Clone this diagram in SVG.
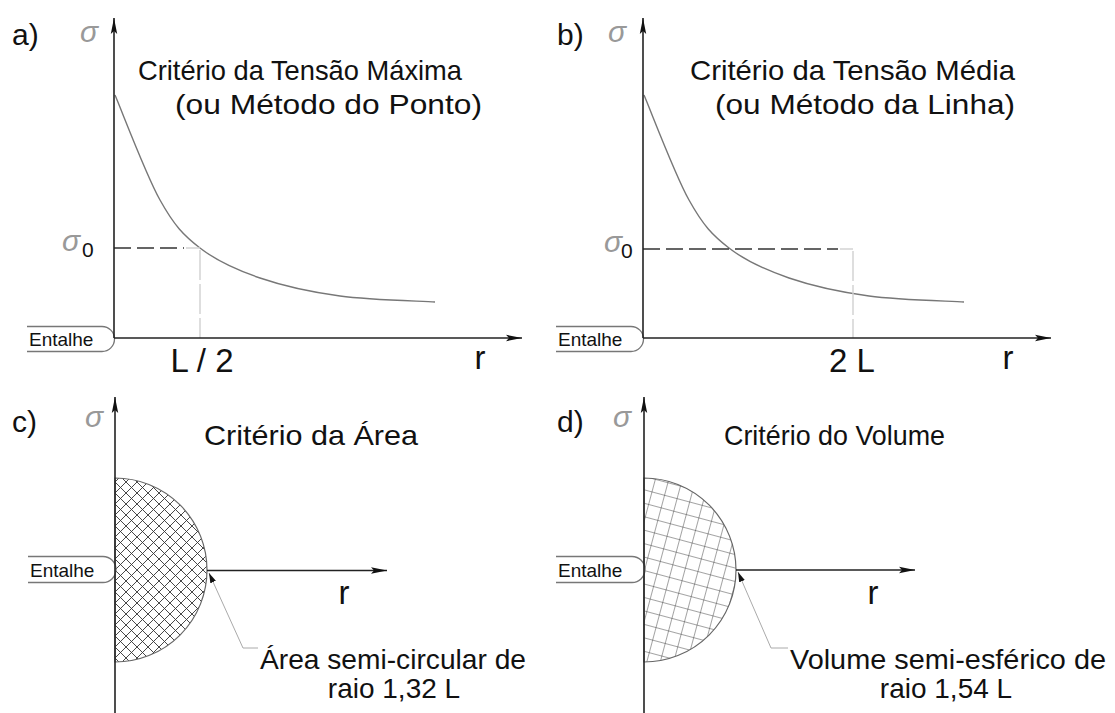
<svg xmlns="http://www.w3.org/2000/svg" width="1115" height="713" viewBox="0 0 1115 713">
<style>
.t{font-family:"Liberation Sans",Arial,sans-serif;fill:#111}
.title{font-size:28px}
.lab{font-size:30px}
.big{font-size:33px}
.ent{font-size:19px}
.sig{font-family:"Liberation Sans",Arial,sans-serif;font-style:italic;font-size:30px;fill:#999}
.axis{stroke:#222;stroke-width:1.6;fill:none}
.curve{stroke:#777;stroke-width:1.4;fill:none}
.dash{stroke:#333;stroke-width:1.4;stroke-dasharray:17 6;fill:none}
.ldash{stroke:#d0d0d0;stroke-width:1.4;stroke-dasharray:30 4;fill:none}
.box{stroke:#777;stroke-width:1.3;fill:#fff}
.lead{stroke:#aaa;stroke-width:1;fill:none}
</style>
<defs>
<marker id="ah" viewBox="0 0 16 8" refX="16" refY="4" markerWidth="16" markerHeight="8" markerUnits="userSpaceOnUse" orient="auto">
<path d="M0,0.8 L16,4 L0,7.2 L3,4 z" fill="#111"/>
</marker>
<marker id="la" viewBox="0 0 10 6" refX="10" refY="3" markerWidth="10" markerHeight="6" markerUnits="userSpaceOnUse" orient="auto">
<path d="M0,0 L10,3 L0,6 z" fill="#111"/>
</marker>
<pattern id="xh" patternUnits="userSpaceOnUse" width="11" height="11" x="115" y="570">
<path d="M0,0 L11,11 M11,0 L0,11 M-1,10 L1,12 M10,-1 L12,1 M-1,1 L1,-1 M10,12 L12,10" stroke="#333" stroke-width="0.9" fill="none"/>
</pattern>
<pattern id="gr" patternUnits="userSpaceOnUse" width="13" height="13" patternTransform="rotate(15 644 570)" x="644" y="570">
<path d="M0,0 V13 M0,0 H13" stroke="#333" stroke-width="0.9" fill="none"/>
</pattern>
<path id="crv" d="M115,95 C122.5,112.5 145.8,174.5 160,200 C174.2,225.5 183.3,235 200,248 C216.7,261 236.7,270 260,278 C283.3,286 310.8,292 340,296 C369.2,300 419.2,301 435,302"/>
</defs>

<!-- Panel a -->
<g id="panel-a">
<text class="t lab" x="12" y="45">a)</text>
<text class="sig" x="80" y="42">σ</text>
<text class="t title" x="138" y="80" textLength="324" lengthAdjust="spacingAndGlyphs">Critério da Tensão Máxima</text>
<text class="t title" x="175" y="114" textLength="307" lengthAdjust="spacingAndGlyphs">(ou Método do Ponto)</text>
<use href="#crv" class="curve"/>
<path class="dash" d="M114,248 H184"/>
<path class="ldash" d="M186,248 H200"/>
<path class="ldash" d="M200,250 V338"/>
<text class="sig" x="62" y="251">σ</text>
<text class="t" x="82" y="257" font-size="21">0</text>
<text class="t big" x="202" y="372" text-anchor="middle">L / 2</text>
<text class="t big" x="480" y="369" text-anchor="middle">r</text>
</g>
<g id="entalhe-a">
<path class="box" d="M27,326.5 H102 A12.5,12.5 0 0 1 102,351.5 H27"/>
<text class="t ent" x="29" y="346">Entalhe</text>
</g>

<!-- Panel b -->
<g id="panel-b">
<text class="t lab" x="557" y="45">b)</text>
<text class="sig" x="608" y="42">σ</text>
<text class="t title" x="690" y="80" textLength="325" lengthAdjust="spacingAndGlyphs">Critério da Tensão Média</text>
<text class="t title" x="715" y="114" textLength="300" lengthAdjust="spacingAndGlyphs">(ou Método da Linha)</text>
<use href="#crv" class="curve" transform="translate(529,0)"/>
<path class="dash" d="M643,249 H838"/>
<path class="ldash" d="M840,249 H853"/>
<path class="ldash" d="M853,251 V338"/>
<text class="sig" x="604" y="252">σ</text>
<text class="t" x="621" y="258" font-size="21">0</text>
<text class="t big" x="852" y="372" text-anchor="middle">2 L</text>
<text class="t big" x="1008" y="369" text-anchor="middle">r</text>
</g>
<g id="entalhe-b">
<path class="box" d="M556,326.5 H631 A12.5,12.5 0 0 1 631,351.5 H556"/>
<text class="t ent" x="558" y="346">Entalhe</text>
</g>

<!-- Panel c -->
<g id="panel-c">
<text class="t lab" x="12" y="432">c)</text>
<text class="sig" x="85" y="427">σ</text>
<text class="t title" x="204" y="445" textLength="214" lengthAdjust="spacingAndGlyphs">Critério da Área</text>
<path d="M115,478 A92,92 0 0 1 115,662 Z" fill="url(#xh)" stroke="#666" stroke-width="1.2"/>
<text class="t big" x="344" y="604" text-anchor="middle">r</text>
<text class="t" x="260" y="669" font-size="28" textLength="266" lengthAdjust="spacingAndGlyphs">Área semi-circular de</text>
<text class="t" x="394" y="698" font-size="28" text-anchor="middle">raio 1,32 L</text>
</g>
<g id="entalhe-c">
<path class="box" d="M28,556.5 H103 A13,13 0 0 1 103,582.5 H28"/>
<text class="t ent" x="30" y="577">Entalhe</text>
</g>

<!-- Panel d -->
<g id="panel-d">
<text class="t lab" x="557" y="432">d)</text>
<text class="sig" x="613" y="427">σ</text>
<text class="t title" x="724" y="445" textLength="221" lengthAdjust="spacingAndGlyphs">Critério do Volume</text>
<path d="M644,478 A92,92 0 0 1 644,662 Z" fill="url(#gr)" stroke="#666" stroke-width="1.2"/>
<text class="t big" x="873" y="604" text-anchor="middle">r</text>
<text class="t" x="790" y="669" font-size="28" textLength="316" lengthAdjust="spacingAndGlyphs">Volume semi-esférico de</text>
<text class="t" x="946" y="698" font-size="28" text-anchor="middle">raio 1,54 L</text>
</g>
<g id="entalhe-d">
<path class="box" d="M556,556.5 H632 A13,13 0 0 1 632,582.5 H556"/>
<text class="t ent" x="558" y="577">Entalhe</text>
</g>

<!-- connectors: axes and leaders -->
<g id="connectors">
<path class="axis" d="M114,338 V18" marker-end="url(#ah)"/>
<path class="axis" d="M114,338 H522" marker-end="url(#ah)"/>
<path class="axis" d="M643,338 V18" marker-end="url(#ah)"/>
<path class="axis" d="M643,338 H1051" marker-end="url(#ah)"/>
<path class="axis" d="M115,713 V397" marker-end="url(#ah)"/>
<path class="axis" d="M207,570.5 H387" marker-end="url(#ah)"/>
<path class="axis" d="M644,713 V397" marker-end="url(#ah)"/>
<path class="axis" d="M736,570 H915" marker-end="url(#ah)"/>
<path class="lead" d="M258,648 H243 L209,573" marker-end="url(#la)"/>
<path class="lead" d="M788,648 H771 L738,572" marker-end="url(#la)"/>
</g>
</svg>
